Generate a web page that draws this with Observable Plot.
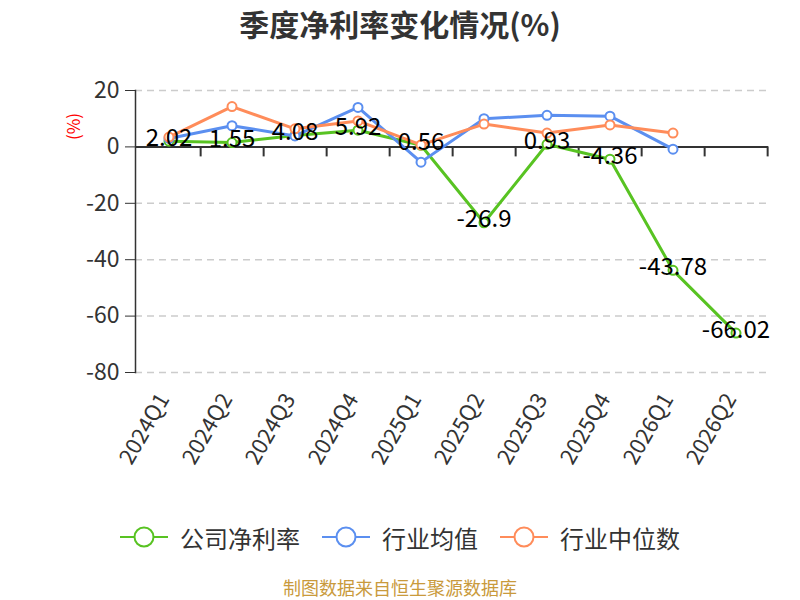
<!DOCTYPE html>
<html>
<head>
<meta charset="utf-8">
<script src="https://cdn.jsdelivr.net/npm/d3@7"></script>
<script src="https://cdn.jsdelivr.net/npm/@observablehq/plot@0.6"></script>
<style>
  body { margin: 0; background: #fff; font-family: "Noto Sans CJK SC", "Noto Sans", sans-serif; }
  #wrap { position: relative; width: 800px; height: 600px; overflow: hidden; }
  #title { position: absolute; top: 2px; left: 0; width: 800px; height: 42px; line-height: 42px; text-align: center; font-size: 30px; font-weight: bold; color: #333; }
  #chart { position: absolute; top: 45px; left: 0; }
  #ylab { position: absolute; left: 59px; top: 114px; transform: rotate(-90deg); color: red; font-size: 17px; }
  #legend { position: absolute; top: 520px; left: 0; width: 800px; height: 34px; display: flex; justify-content: center; align-items: center; gap: 22px; font-size: 24px; color: #333; }
  .item { display: flex; align-items: center; gap: 12px; }
  #footer { position: absolute; top: 576px; left: 0; width: 800px; height: 22px; line-height: 22px; text-align: center; font-size: 18px; color: #c99a3c; }
</style>
</head>
<body>
<div id="wrap">
  <div id="title">季度净利率变化情况(%)</div>
  <div id="chart"></div>
  <div id="ylab">(%)</div>
  <div id="legend"></div>
  <div id="footer">制图数据来自恒生聚源数据库</div>
</div>
<script>
const quarters = ["2024Q1","2024Q2","2024Q3","2024Q4","2025Q1","2025Q2","2025Q3","2025Q4","2026Q1","2026Q2"];
const companyMargin = [2.02, 1.55, 4.08, 5.92, 0.56, -26.9, 0.93, -4.36, -43.78, -66.02];
const industryAvg = [3.0, 7.5, 3.9, 14.0, -5.4, 10.0, 11.2, 10.9, -0.8, null];
const industryMedian = [3.5, 14.3, 6.4, 9.2, 0.7, 8.1, 4.9, 7.8, 4.9, null];
const seriesNames = ["公司净利率", "行业均值", "行业中位数"];
const seriesColors = ["#58c322", "#5b8ff0", "#ff8c5a"];
const yTicks = [20, 0, -20, -40, -60, -80];

const W = 800, H = 455, ML = 135, MR = 32, MT = 45, MB = 128;
const bw = (W - ML - MR) / quarters.length;
const unitsPerPx = (yTicks[0] - yTicks[yTicks.length - 1]) / (H - MT - MB);
const tickLen = 10 * unitsPerPx;

const allSeries = [companyMargin, industryAvg, industryMedian];
const rows = allSeries.map((vals, s) => quarters.map((q, i) => ({q, v: vals[i], s: seriesNames[s]})));
const boundaries = quarters.map(q => ({q, v: 0}));

const lineMarks = [];
rows.forEach((r, s) => {
  lineMarks.push(Plot.line(r, {x: "q", y: "v", stroke: seriesColors[s], strokeWidth: 3, defined: d => d.v != null}));
  lineMarks.push(Plot.dot(r.filter(d => d.v != null), {x: "q", y: "v", r: 4.5, fill: "white", stroke: seriesColors[s], strokeWidth: 2}));
});

const chart = Plot.plot({
  width: W, height: H,
  marginLeft: ML, marginRight: MR, marginTop: MT, marginBottom: MB,
  style: {fontFamily: "'Noto Sans CJK SC', 'Noto Sans', sans-serif", background: "white"},
  x: {type: "band", domain: quarters, padding: 0},
  y: {domain: [yTicks[yTicks.length - 1], yTicks[0]]},
  marks: [
    Plot.ruleY(yTicks.filter(t => t !== 0), {stroke: "#cccccc", strokeDasharray: "7,5", strokeWidth: 1.5}),
    Plot.axisY({ticks: yTicks, tickSize: 10, tickPadding: 6, fontSize: 23, color: "#333", label: null, tickFormat: d => d}),
    Plot.frame({anchor: "left", stroke: "#333", strokeWidth: 1.5}),
    Plot.ruleY([0], {stroke: "#333", strokeWidth: 2}),
    Plot.ruleX(boundaries, {x: "q", y1: 0, y2: -tickLen, dx: bw / 2, stroke: "#333", strokeWidth: 2}),
    Plot.axisX({tickSize: 0, tickRotate: -60, tickPadding: 8, fontSize: 22, color: "#333", label: null}),
    ...lineMarks,
    Plot.text(rows[0], {x: "q", y: "v", text: d => String(d.v), fontSize: 24, fill: "black", dy: -3})
  ]
});
const xLabels = chart.querySelector('g[aria-label="x-axis tick label"]');
if (xLabels) {
  const prev = xLabels.getAttribute("transform") || "";
  xLabels.setAttribute("transform", (prev + " translate(-5,15)").trim());
}
document.getElementById("chart").appendChild(chart);

const legend = document.getElementById("legend");
seriesNames.forEach((name, s) => {
  const item = document.createElement("div");
  item.className = "item";
  item.innerHTML = `<svg width="48" height="22"><line x1="0" y1="11" x2="48" y2="11" stroke="${seriesColors[s]}" stroke-width="2"/><circle cx="24" cy="11" r="9.5" fill="white" stroke="${seriesColors[s]}" stroke-width="2"/></svg><span>${name}</span>`;
  legend.appendChild(item);
});
</script>
</body>
</html>
